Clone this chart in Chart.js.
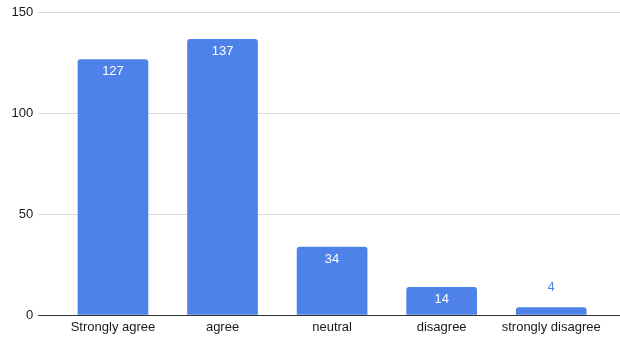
<!DOCTYPE html>
<html>
<head>
<meta charset="utf-8">
<script src="https://cdn.jsdelivr.net/npm/chart.js@4/dist/chart.umd.min.js"></script>
<style>
  html, body { margin: 0; padding: 0; background: #fff; }
  #wrap { width: 620px; height: 339px; }
</style>
</head>
<body>
<div id="wrap"><canvas id="c"></canvas></div>
<script>
const categories = ['Strongly agree', 'agree', 'neutral', 'disagree', 'strongly disagree'];
const responses = [127, 137, 34, 14, 4];
const yTicks = [0, 50, 100, 150];

const BAR_BLUE = '#4f82e8';
const FONT = '"Liberation Sans", Arial, sans-serif';

// Writes each bar's value: inside the bar in white, or above it in blue when the bar is too short.
const valueLabels = {
  id: 'valueLabels',
  afterDatasetsDraw(chart) {
    const ctx = chart.ctx;
    const meta = chart.getDatasetMeta(0);
    ctx.save();
    ctx.font = '13px ' + FONT;
    ctx.textAlign = 'center';
    ctx.textBaseline = 'middle';
    meta.data.forEach((bar, i) => {
      const v = chart.data.datasets[0].data[i];
      const h = bar.base - bar.y;
      if (h > 22) {
        ctx.fillStyle = '#ffffff';
        ctx.fillText(String(v), bar.x, bar.y + 12.5);
      } else {
        ctx.fillStyle = BAR_BLUE;
        ctx.fillText(String(v), bar.x, bar.y - 20);
      }
    });
    ctx.restore();
  }
};

const gridColor = (c) => (c.tick && c.tick.value === 0 ? '#333333' : '#dadada');

new Chart(document.getElementById('c'), {
  type: 'bar',
  data: {
    labels: categories,
    datasets: [{
      data: responses,
      backgroundColor: BAR_BLUE,
      borderRadius: { topLeft: 3, topRight: 3, bottomLeft: 0, bottomRight: 0 },
      borderSkipped: 'start',
      categoryPercentage: 1,
      barPercentage: 0.645
    }]
  },
  options: {
    responsive: true,
    maintainAspectRatio: false,
    animation: false,
    devicePixelRatio: 1,
    layout: { padding: { left: 6.5, right: 0, top: 12, bottom: 0 } },
    plugins: { legend: { display: false }, tooltip: { enabled: false } },
    scales: {
      x: {
        grid: { display: false, drawTicks: false },
        border: { display: false },
        ticks: { color: '#1a1a1a', font: { family: FONT, size: 13, lineHeight: 0.9 }, padding: 6, maxRotation: 0, autoSkip: false }
      },
      y: {
        min: 0,
        max: 150,
        afterBuildTicks: (axis) => { axis.ticks = yTicks.map(v => ({ value: v })); },
        grid: { color: gridColor, tickColor: gridColor, tickLength: 20, lineWidth: 1 },
        border: { display: false },
        ticks: { color: '#1a1a1a', font: { family: FONT, size: 13 }, padding: 5 }
      },
      yRight: {
        position: 'right',
        min: 0,
        max: 150,
        afterBuildTicks: (axis) => { axis.ticks = yTicks.map(v => ({ value: v })); },
        grid: { drawOnChartArea: false, color: gridColor, tickColor: gridColor, tickLength: 14 },
        border: { display: false },
        ticks: { display: false }
      }
    }
  },
  plugins: [valueLabels]
});
</script>
</body>
</html>
